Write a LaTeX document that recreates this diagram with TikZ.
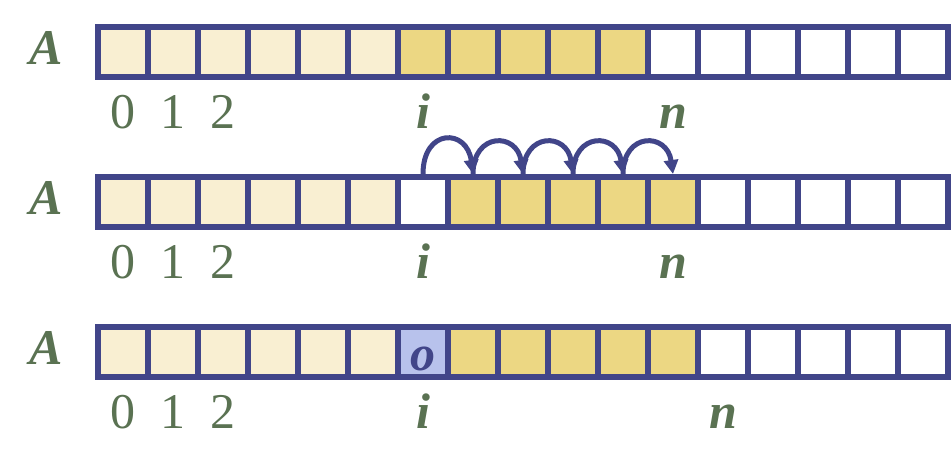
\documentclass[tikz,border=0pt]{standalone}
\usepackage{fontspec}
\setmainfont{Liberation Serif}
\usetikzlibrary{arrows.meta}
\definecolor{edge}{HTML}{414589}
\definecolor{done}{HTML}{F9EFD2}
\definecolor{block}{HTML}{ECD783}
\definecolor{slot}{HTML}{B8C2EC}
\definecolor{ink}{HTML}{5A7252}
\begin{document}
\begin{tikzpicture}[x=1pt,y=-1pt,
        cell/.style={draw=edge,line width=6pt,minimum size=50pt,inner sep=0pt},
        idx/.style={text=ink,font=\fontsize{50}{60}\selectfont,anchor=base,inner sep=0pt},
        var/.style={idx,font=\fontsize{50}{60}\selectfont\bfseries\itshape},
        hop/.style={draw=edge,line width=5pt,-{Triangle[length=14pt,width=14pt]}}]
    \useasboundingbox (0,0) rectangle (951,471);
    % the three rows of the array
    \foreach \r/\y/\mc/\last/\n in {1/52/block/10/11, 2/202/white/11/11, 3/352/slot/11/12} {
        \foreach \c in {0,...,16} {
            \ifnum\c<6 \def\tint{done}\else
                \ifnum\c=6 \edef\tint{\mc}\else
                    \ifnum\c>\last \def\tint{white}\else\def\tint{block}\fi
                \fi
            \fi
            \node[cell,fill=\tint] (r\r c\c) at (123+50*\c,\y) {};
        }
        \node[var] (a\r) at (46,\y+12) {A};
        \foreach \k in {0,1,2}
            \node[idx] (d\r\k) at (123+50*\k,\y+76) {\k};
        \node[var] (i\r) at (423,\y+76) {i};
        \node[var] (n\r) at (123+50*\n,\y+76) {n};
    }
    \node[var,text=edge] (o) at (423,370) {o};
    % shifting the block one place to the right
    \foreach \c/\d/\h in {6/7/46, 7/8/42, 8/9/42, 9/10/42, 10/11/42}
        \draw[hop] (r2c\c.north) .. controls +(0,-\h) and +(-6,-\h) .. (r2c\d.north);
\end{tikzpicture}
\end{document}
